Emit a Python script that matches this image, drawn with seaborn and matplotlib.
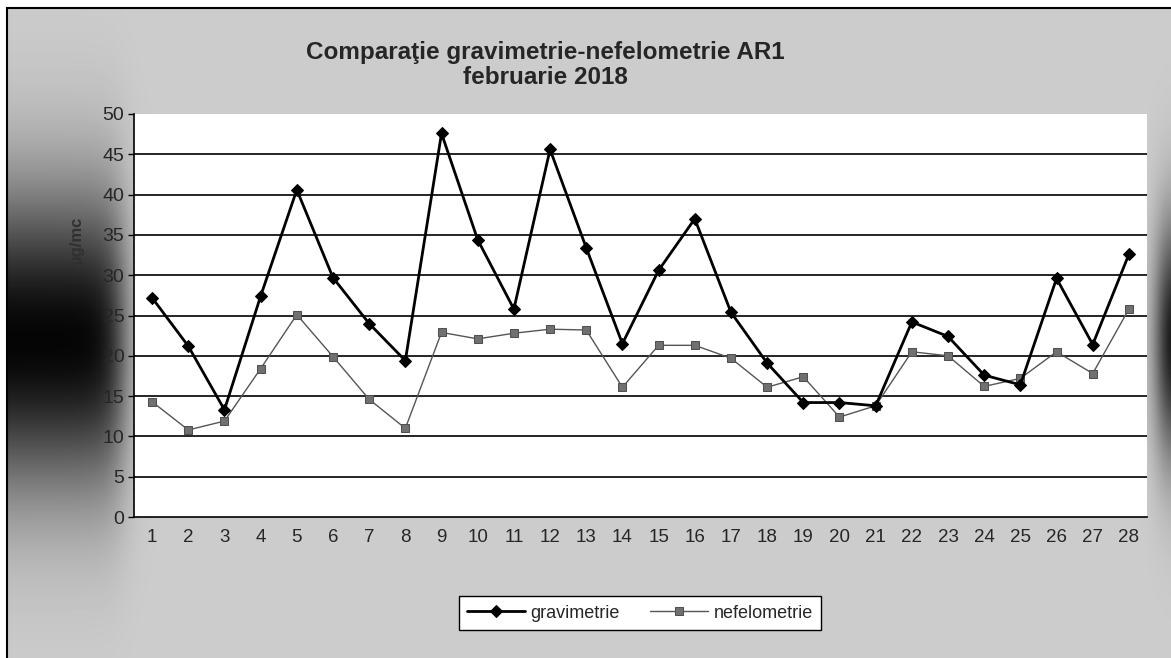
import numpy as np
import pandas as pd
import seaborn as sns
import matplotlib.pyplot as plt
from matplotlib.patches import Rectangle

zile = list(range(1, 29))
gravimetrie = [27.2, 21.2, 13.3, 27.4, 40.6, 29.7, 24.0, 19.4, 47.6, 34.4, 25.8, 45.6, 33.4, 21.5,
               30.6, 37.0, 25.4, 19.1, 14.2, 14.2, 13.8, 24.2, 22.4, 17.6, 16.4, 29.6, 21.4, 32.6]
nefelometrie = [14.3, 10.8, 11.9, 18.4, 25.1, 19.9, 14.6, 11.0, 22.9, 22.1, 22.8, 23.3, 23.2, 16.1,
                21.3, 21.3, 19.7, 16.1, 17.4, 12.4, 13.8, 20.5, 20.0, 16.2, 17.2, 20.5, 17.8, 25.8]

df = pd.DataFrame({'zi': zile, 'gravimetrie': gravimetrie, 'nefelometrie': nefelometrie})

sns.set_style("white")
plt.rcParams['font.family'] = ['Liberation Sans', 'DejaVu Sans']

W, H = 1171, 658
fig = plt.figure(figsize=(W / 100, H / 100), dpi=100)
fig.patch.set_facecolor('white')

# gray chart background, dark shading at left and right edges
bg = fig.add_axes([7 / W, 0, 1 - 7 / W, 1 - 8 / H], zorder=0)
xx, yy = np.meshgrid(np.arange(7, W), np.arange(8, H))
vert_l = np.exp(-((yy - 340) / 150.0) ** 2)
horiz_l = 1 / (1 + np.exp((xx - 122) / 9.0))
vert_r = np.exp(-((yy - 340) / 120.0) ** 2)
horiz_r = 1 / (1 + np.exp(-(xx - 1158) / 6.0))
gray = np.clip(0.80 - 0.78 * vert_l * horiz_l - 0.78 * vert_r * horiz_r, 0, 1)
bg.imshow(gray, cmap='gray', vmin=0, vmax=1, aspect='auto', interpolation='bilinear')
bg.set_axis_off()
fig.add_artist(Rectangle((7 / W, -0.01), 1.0, 1.0 - 8 / H + 0.01,
                         transform=fig.transFigure, fill=False, edgecolor='black', lw=1.5, zorder=1))

ax = fig.add_axes([134 / W, 1 - 517 / H, (1147 - 134) / W, (517 - 114) / H], zorder=2)
ax.set_facecolor('white')

sns.lineplot(data=df, x='zi', y='gravimetrie', ax=ax, color='black', lw=2.0,
             marker='D', markersize=6, markeredgecolor='black', label='gravimetrie', zorder=4)
sns.lineplot(data=df, x='zi', y='nefelometrie', ax=ax, color='#555555', lw=1.0,
             marker='s', markersize=6, markerfacecolor='#707070', markeredgecolor='#505050',
             label='nefelometrie', zorder=3)

ax.set_xlim(0.5, 28.5)
ax.set_ylim(0, 50)
ax.set_yticks(range(0, 51, 5))
for v in range(5, 50, 5):
    ax.axhline(v, color='black', lw=1.2, zorder=1)

ax.set_xticks(zile)
ax.set_xticklabels([str(z) for z in zile], fontsize=13.5)
ax.set_xticks(np.arange(0.5, 29, 1), minor=True)
ax.tick_params(axis='x', which='major', length=0, pad=9)
ax.tick_params(axis='x', which='minor', length=4, width=1, direction='out', color='black')
ax.tick_params(axis='y', length=4, width=1, direction='out', color='black', labelsize=14, pad=3)
ax.tick_params(bottom=True, left=True)

for s in ['top', 'right']:
    ax.spines[s].set_visible(False)
for s in ['left', 'bottom']:
    ax.spines[s].set_color('black')
    ax.spines[s].set_linewidth(1.2)

ax.set_xlabel('')
ax.set_ylabel('')
fig.text(76 / W, 1 - 240 / H, 'µg/mc', rotation=90, ha='center', va='center',
         fontsize=12, fontweight='bold', color='#303030')

fig.text(545 / W, 1 - 52 / H, 'Comparaţie gravimetrie-nefelometrie AR1', ha='center', va='center',
         fontsize=17.5, fontweight='bold')
fig.text(545 / W, 1 - 77 / H, 'februarie 2018', ha='center', va='center',
         fontsize=17.5, fontweight='bold')

leg = ax.legend(loc='center', bbox_to_anchor=(640 / W, 1 - 613 / H), bbox_transform=fig.transFigure,
                ncol=2, frameon=True, fancybox=False, fontsize=13, handlelength=3.2,
                columnspacing=1.7, borderpad=0.45, handletextpad=0.3)
leg.get_frame().set_edgecolor('black')
leg.get_frame().set_linewidth(1.0)
leg.get_frame().set_facecolor('white')
leg.get_frame().set_alpha(1)

plt.savefig('out.png', dpi=100)
